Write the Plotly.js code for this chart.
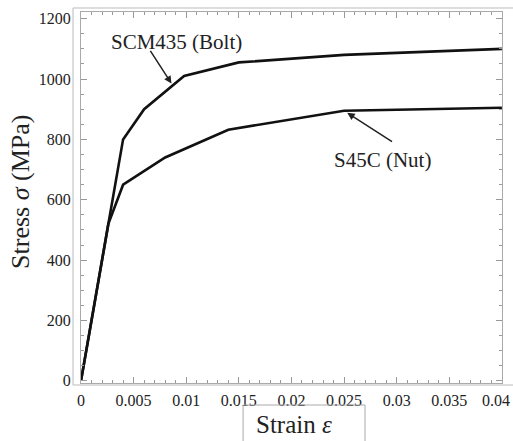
<!DOCTYPE html>
<html>
<head>
<meta charset="utf-8">
<script src="https://cdn.plot.ly/plotly-3.0.1.min.js"></script>
<style>
html,body{margin:0;padding:0;background:#fff;}
#chart{width:513px;height:441px;}
#fontwarm{position:absolute;left:380px;top:412px;font-family:'Liberation Serif';font-size:10px;color:#fff;white-space:nowrap;line-height:10px;}
</style>
</head>
<body>
<div id="chart"></div>
<div id="fontwarm">SCM435 Bolt <i>σε</i> 0.12</div>
<script>
// Data
const boltStrain = [0, 0.004, 0.006, 0.0098, 0.015, 0.025, 0.04];
const boltStress = [0, 800, 900, 1010, 1055, 1080, 1100];
const nutStrain = [0, 0.0026, 0.004, 0.008, 0.014, 0.025, 0.04];
const nutStress = [0, 520, 650, 740, 832, 895, 905];

const xTickVals = [0, 0.005, 0.01, 0.015, 0.02, 0.025, 0.03, 0.035, 0.04];
const xTickText = ["0", "0.005", "0.01", "0.015", "0.02", "0.025", "0.03", "0.035", "0.04\u00a0\u00a0\u00a0"];
const yTickVals = [0, 200, 400, 600, 800, 1000, 1200];
const yTickText = ["0", "200", "400", "600", "800", "1000", "1200"];

const boltLabel = "SCM435 (Bolt)";
const nutLabel = "S45C (Nut)";
const xTitle = "Strain <i>ε</i>";
const yTitle = "Stress <i>σ</i> (MPa)";

// minor tick positions (axis decoration only)
const xMinor = [];
for (let i = 0; i <= 40; i++) xMinor.push(i / 1000);
const yMinor = [];
for (let i = 0; i <= 24; i++) yMinor.push(i * 50);

const serif = "Liberation Serif";
const lineStyle = {color: "#111", width: 2.6};

const traces = [
  {x: boltStrain, y: boltStress, type: "scatter", mode: "lines", line: lineStyle, name: boltLabel, showlegend: false},
  {x: nutStrain, y: nutStress, type: "scatter", mode: "lines", line: lineStyle, name: nutLabel, showlegend: false}
];

const axisCommon = {
  showgrid: false, zeroline: false,
  showline: true, linecolor: "#aaa", linewidth: 1, mirror: "ticks",
  ticks: "inside", ticklen: 6, tickcolor: "#999", tickwidth: 1,
  tickfont: {family: serif, size: 16},
  tickmode: "array", ticklabeloverflow: "allow"
};

const layout = {
  width: 513, height: 441,
  margin: {l: 81, r: 11, t: 12, b: 58},
  paper_bgcolor: "#fff", plot_bgcolor: "#fff",
  font: {family: serif, color: "#222"},
  xaxis: Object.assign({}, axisCommon, {
    range: [0, 0.04001], tickvals: xTickVals, ticktext: xTickText,
    ticklabelstandoff: 3, ticklabelshift: -1.5,
    minor: {tickmode: "array", tickvals: xMinor, ticks: "inside", ticklen: 3, tickcolor: "#999", showgrid: false}
  }),
  yaxis: Object.assign({}, axisCommon, {
    range: [-7, 1222], tickvals: yTickVals, ticktext: yTickText,
    ticklabelstandoff: 6,
    minor: {tickmode: "array", tickvals: yMinor, ticks: "inside", ticklen: 3, tickcolor: "#999", showgrid: false}
  }),
  shapes: [
    {type: "path", xref: "paper", yref: "paper",
     path: "M 1.03,1.0108 L -0.019,1.0108 L -0.019,-0.0054 L 1.03,-0.0054",
     line: {color: "#bbb", width: 1}},
    {type: "path", xref: "paper", yref: "paper",
     path: "M 0.385,-0.2 L 0.385,-0.0593 L 0.6746,-0.0593 L 0.6746,-0.2",
     line: {color: "#aaa", width: 1}}
  ],
  annotations: [
    {text: boltLabel, x: 0.0091, y: 1122, showarrow: false,
     font: {family: serif, size: 21}},
    {text: "", x: 0.0086, y: 985, ax: 0.0065, ay: 1098, axref: "x", ayref: "y",
     showarrow: true, arrowhead: 2, arrowsize: 1, arrowwidth: 1.5, arrowcolor: "#222"},
    {text: nutLabel, x: 0.0287, y: 733, showarrow: false,
     font: {family: serif, size: 21}},
    {text: "", x: 0.0253, y: 888, ax: 0.0297, ay: 789, axref: "x", ayref: "y",
     showarrow: true, arrowhead: 2, arrowsize: 1, arrowwidth: 1.5, arrowcolor: "#222"},
    {text: xTitle, x: 0.505, y: -0.113, xref: "paper", yref: "paper", showarrow: false,
     xanchor: "center", yanchor: "middle",
     font: {family: serif, size: 25}},
    {text: yTitle, x: -0.1425, y: 0.515, xref: "paper", yref: "paper", showarrow: false,
     textangle: -90, xanchor: "center", yanchor: "middle",
     font: {family: serif, size: 26}}
  ]
};

const cfg = {staticPlot: true, displayModeBar: false};
Plotly.newPlot("chart", traces, layout, cfg);
if (document.fonts && document.fonts.ready) {
  document.fonts.ready.then(function () { Plotly.react("chart", traces, layout, cfg); });
}
</script>
</body>
</html>
